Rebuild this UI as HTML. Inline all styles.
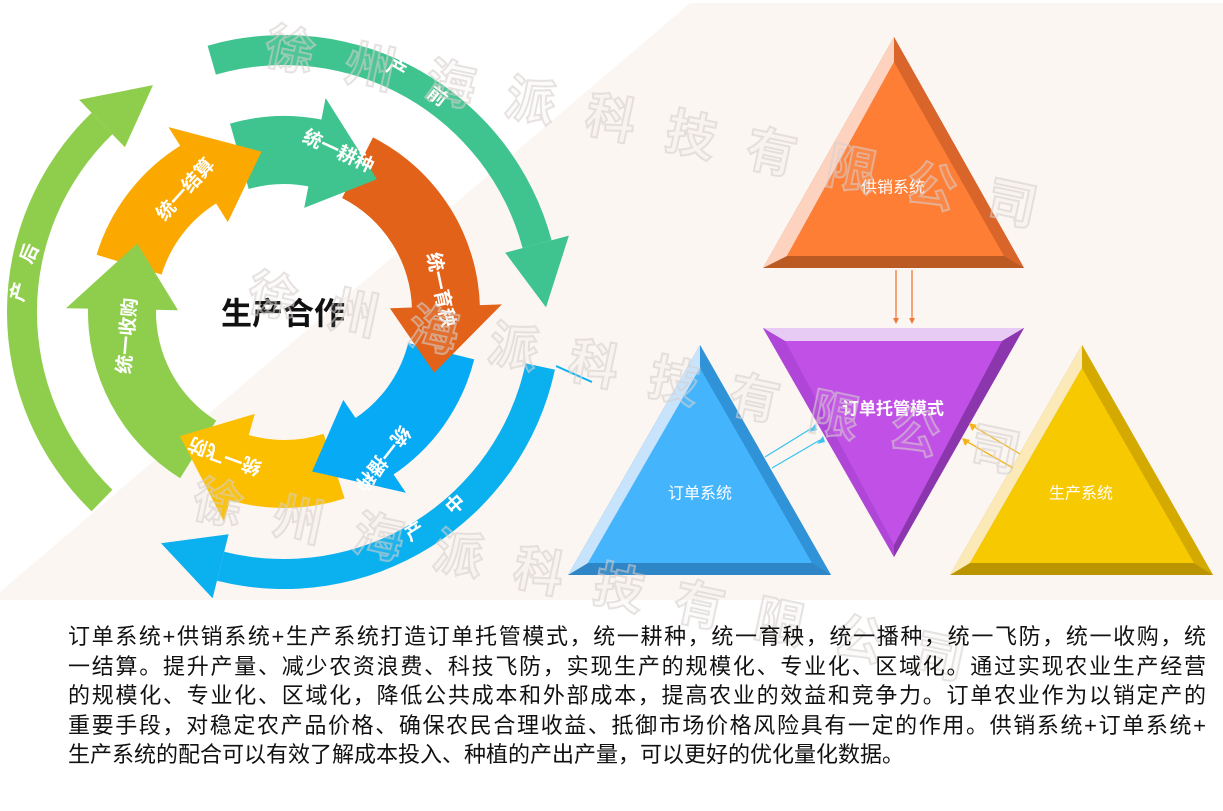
<!DOCTYPE html>
<html><head><meta charset="utf-8">
<style>
html,body{margin:0;padding:0;background:#fff;}
#wrap{position:relative;width:1223px;height:811px;overflow:hidden;background:#fff;font-family:"Liberation Sans","Noto Sans CJK SC",sans-serif;}
svg{position:absolute;left:0;top:0;}
.para{position:absolute;left:68px;top:622px;width:1138px;font-size:22px;line-height:29.5px;color:#111;}
.para div{text-align:justify;text-align-last:justify;white-space:nowrap;height:29.5px;}
.para div.last{text-align-last:left;}
</style></head><body>
<div id="wrap">
<svg id="s" width="1223" height="811" viewBox="0 0 1223 811" xmlns="http://www.w3.org/2000/svg">
<polygon points="690,3 1223,3 1223,600 0,600 0,592" fill="#fcf6f3"/>
<g id="ring"></g>
<g font-family="Liberation Sans,Noto Sans CJK SC,sans-serif" font-weight="bold" fill="#fff" font-size="19" text-anchor="middle" dominant-baseline="central">
<text transform="translate(338,152) rotate(25)">统一耕种</text>
<text transform="translate(440,290) rotate(78)">统一育秧</text>
<text transform="translate(382,458) rotate(128)">统一播种</text>
<text transform="translate(225,455) rotate(200)">统一飞防</text>
<text transform="translate(128,336) rotate(-85)">统一收购</text>
<text transform="translate(186,190) rotate(-48)">统一结算</text>
<text transform="translate(396,70) rotate(30)">产</text>
<text transform="translate(437,97) rotate(38)">前</text>
<text transform="translate(20,292) rotate(-75)">产</text>
<text transform="translate(30,254) rotate(-65)">后</text>
<text transform="translate(415,532) rotate(-32)">产</text>
<text transform="translate(456,505) rotate(-42)">中</text>
</g>
<text x="283" y="314" font-family="Liberation Sans,Noto Sans CJK SC,sans-serif" font-weight="bold" font-size="31" fill="#111" text-anchor="middle" dominant-baseline="central">生产合作</text>
<line x1="556" y1="366" x2="592" y2="382" stroke="#0bb0ee" stroke-width="2"/>

<g id="tri">
<polygon points="894,37 763,268 1024,268" fill="#bb5a23"/>
<polygon points="894,37 763,268 787,256 894,62" fill="#fdd3c0"/>
<polygon points="894,37 1024,268 1004,256 894,62" fill="#d9652a"/>
<polygon points="894,62 787,256 1004,256" fill="#ff7e36"/>
<polygon points="763,328 1024,328 894,557" fill="#9a3cc0"/>
<polygon points="763,328 1024,328 1002,341 785,341" fill="#e7cbf5"/>
<polygon points="763,328 785,341 894,545 894,557" fill="#b046d8"/>
<polygon points="1024,328 1002,341 894,545 894,557" fill="#8c36ae"/>
<polygon points="785,341 1002,341 894,545" fill="#c150e7"/>
<polygon points="700,345 568,575 831,575" fill="#2e86c6"/>
<polygon points="700,345 568,575 588,563 700,368" fill="#c8e4fc"/>
<polygon points="700,345 831,575 812,563 700,368" fill="#3193d7"/>
<polygon points="700,368 588,563 812,563" fill="#44b5fd"/>
<polygon points="1082,345 950,575 1213,575" fill="#bb9500"/>
<polygon points="1082,345 950,575 970,563 1082,368" fill="#fbe9b8"/>
<polygon points="1082,345 1213,575 1194,563 1082,368" fill="#d4aa00"/>
<polygon points="1082,368 970,563 1194,563" fill="#f7c900"/>
</g>
<g stroke-width="1.3" fill="none">
<line x1="896" y1="270" x2="896" y2="320" stroke="#f07a38"/>
<line x1="912" y1="270" x2="912" y2="320" stroke="#f07a38"/>
<polygon points="893,318 899,318 896,324" fill="#f07a38"/>
<polygon points="909,318 915,318 912,324" fill="#f07a38"/>
<line x1="765" y1="457" x2="812" y2="428" stroke="#3cc3ee"/>
<line x1="772" y1="468" x2="820" y2="440" stroke="#3cc3ee"/>
<polygon points="815,424 809,432 817,430" fill="#3cc3ee"/>
<polygon points="823,436 817,444 825,442" fill="#3cc3ee"/>
<line x1="1020" y1="454" x2="973" y2="426" stroke="#f2b418"/>
<line x1="1013" y1="468" x2="966" y2="441" stroke="#f2b418"/>
<polygon points="969,423 977,425 972,431" fill="#f2b418"/>
<polygon points="962,438 970,440 965,446" fill="#f2b418"/>
</g>
<g font-family="Liberation Sans,Noto Sans CJK SC,sans-serif" fill="#fff" text-anchor="middle" dominant-baseline="central" font-size="16">
<text x="893" y="188">供销系统</text>
<text x="893" y="409" font-weight="bold" font-size="17">订单托管模式</text>
<text x="700" y="494">订单系统</text>
<text x="1081" y="494">生产系统</text>
</g>
<g font-family="Liberation Sans,Noto Sans CJK SC,sans-serif" font-weight="bold" font-size="50" fill="rgba(220,214,212,0.18)" stroke="#d6d0ce" stroke-width="2" opacity="0.6">
<text transform="translate(262,62) rotate(12)" letter-spacing="32">徐州海派科技有限公司</text>
<text transform="translate(245,308) rotate(12)" letter-spacing="32">徐州海派科技有限公司</text>
<text transform="translate(190,515) rotate(12)" letter-spacing="32">徐州海派科技有限公司</text>
</g>
</svg>
<div class="para">
<div>订单系统+供销系统+生产系统打造订单托管模式，统一耕种，统一育秧，统一播种，统一飞防，统一收购，统</div>
<div>一结算。提升产量、减少农资浪费、科技飞防，实现生产的规模化、专业化、区域化。通过实现农业生产经营</div>
<div>的规模化、专业化、区域化，降低公共成本和外部成本，提高农业的效益和竞争力。订单农业作为以销定产的</div>
<div>重要手段，对稳定农产品价格、确保农民合理收益、抵御市场价格风险具有一定的作用。供销系统+订单系统+</div>
<div class="last">生产系统的配合可以有效了解成本投入、种植的产出产量，可以更好的优化量化数据。</div>
</div>
</div>
<script>
(function(){
var cx=284,cy=312,NS="http://www.w3.org/2000/svg",g=document.getElementById('ring');
function pt(r,a){a=a*Math.PI/180;return [(cx+r*Math.cos(a)).toFixed(1),(cy+r*Math.sin(a)).toFixed(1)];}
function add(tag,attrs){var e=document.createElementNS(NS,tag);for(var k in attrs)e.setAttribute(k,attrs[k]);g.appendChild(e);}
function body(r,w,a0,a1,col){var ro=r+w/2,ri=r-w/2,lg=(a1-a0)>180?1:0;
var p1=pt(ro,a0),p2=pt(ro,a1),p3=pt(ri,a1),p4=pt(ri,a0);
add('path',{d:'M'+p1+' A'+ro+' '+ro+' 0 '+lg+' 1 '+p2+' L'+p3+' A'+ri+' '+ri+' 0 '+lg+' 0 '+p4+' Z',fill:col});}
function head(r,w,ab,tip,hw,col){add('polygon',{points:[pt(r+w/2+hw,ab),pt(r-w/2-hw,ab),pt(r,tip)].join(' '),fill:col});}
body(262,30,-106,-15,'#3fc48f');head(262,30,-15,-1,18,'#3fc48f');
body(262,30,12,104,'#0bb0ee');head(262,30,104,118,18,'#0bb0ee');
body(262,30,134,226,'#8fce4c');head(262,30,226,240,18,'#8fce4c');
var T=[262,305,382,440,490,565],C=['#fba800','#3fc48f','#e2621a','#06aaf5','#fbbf00','#8fce4c'];
var r=162,w=68,hl=24;
for(var i=0;i<6;i++){var prev=T[(i+5)%6];if(prev>T[i])prev-=360;body(r,w,prev-8,T[i]-hl+1,C[i]);}
for(var i=0;i<6;i++){head(r,w,T[i]-hl,T[i],22,C[i]);}
})();
</script>
</body></html>
